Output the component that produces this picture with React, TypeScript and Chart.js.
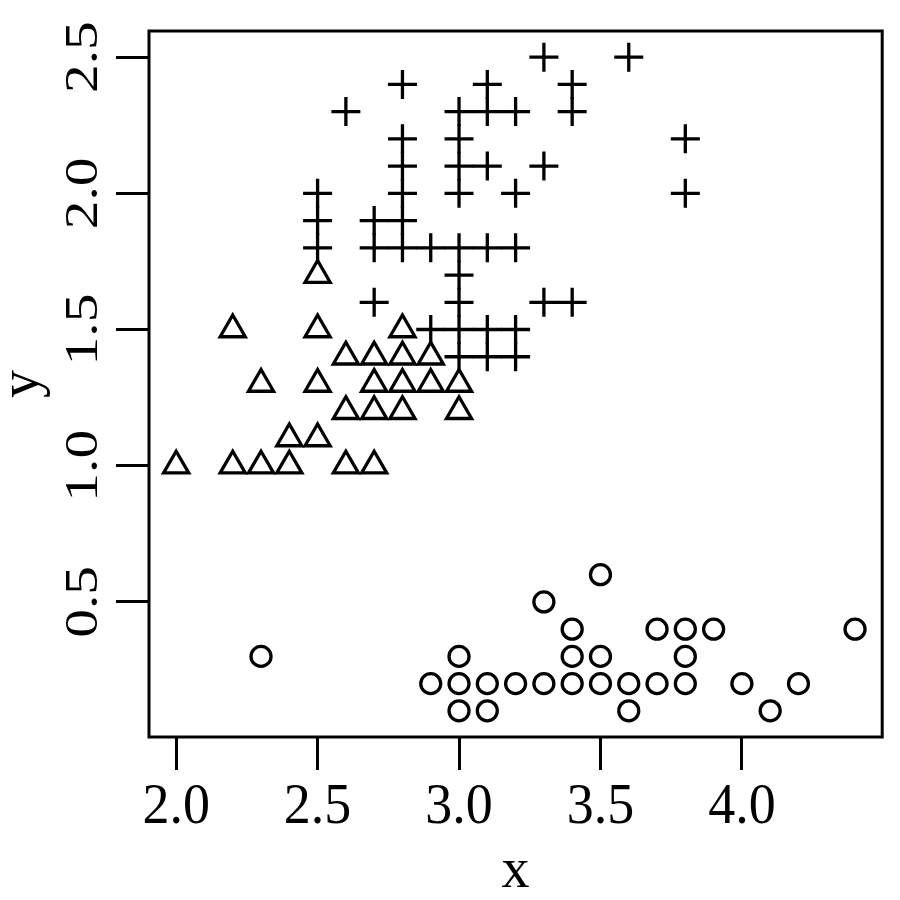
import React, { useEffect, useRef } from "react";
import { Chart, registerables } from "chart.js";

Chart.register(...registerables);

// Axis ticks
const xTicks = [2.0, 2.5, 3.0, 3.5, 4.0];
const xTickLabels = ["2.0", "2.5", "3.0", "3.5", "4.0"];
const yTicks = [0.5, 1.0, 1.5, 2.0, 2.5];
const yTickLabels = ["0.5", "1.0", "1.5", "2.0", "2.5"];
const xTitle = "x";
const yTitle = "y";

// Group 1 (circles)
const circleX = [2.3, 2.9, 3.0, 3.0, 3.0, 3.1, 3.1, 3.2, 3.3, 3.3, 3.4, 3.4, 3.4, 3.5, 3.5, 3.5, 3.6, 3.6, 3.7, 3.7, 3.8, 3.8, 3.8, 3.9, 4.0, 4.1, 4.2, 4.4];
const circleY = [0.3, 0.2, 0.1, 0.2, 0.3, 0.1, 0.2, 0.2, 0.2, 0.5, 0.2, 0.3, 0.4, 0.2, 0.3, 0.6, 0.1, 0.2, 0.2, 0.4, 0.2, 0.3, 0.4, 0.4, 0.2, 0.1, 0.2, 0.4];

// Group 2 (triangles)
const triX = [2.5, 2.2, 2.5, 2.8, 2.6, 2.7, 2.8, 2.9, 2.3, 2.5, 2.7, 2.8, 2.9, 3.0, 2.6, 2.7, 2.8, 3.0, 2.4, 2.5, 2.0, 2.2, 2.3, 2.4, 2.6, 2.7];
const triY = [1.7, 1.5, 1.5, 1.5, 1.4, 1.4, 1.4, 1.4, 1.3, 1.3, 1.3, 1.3, 1.3, 1.3, 1.2, 1.2, 1.2, 1.2, 1.1, 1.1, 1.0, 1.0, 1.0, 1.0, 1.0, 1.0];

// Group 3 (plus signs)
const plusX = [3.3, 3.6, 2.8, 3.1, 3.4, 2.6, 3.0, 3.1, 3.2, 3.4, 2.8, 3.0, 3.8, 2.8, 3.0, 3.1, 3.3, 2.5, 2.8, 3.0, 3.2, 3.8, 2.5, 2.7, 2.8, 2.5, 2.7, 2.8, 2.9, 3.0, 3.1, 3.2, 3.0, 2.7, 3.0, 3.3, 3.4, 2.9, 3.0, 3.1, 3.2, 3.0, 3.1, 3.2];
const plusY = [2.5, 2.5, 2.4, 2.4, 2.4, 2.3, 2.3, 2.3, 2.3, 2.3, 2.2, 2.2, 2.2, 2.1, 2.1, 2.1, 2.1, 2.0, 2.0, 2.0, 2.0, 2.0, 1.9, 1.9, 1.9, 1.8, 1.8, 1.8, 1.8, 1.8, 1.8, 1.8, 1.7, 1.6, 1.6, 1.6, 1.6, 1.5, 1.5, 1.5, 1.5, 1.4, 1.4, 1.4];

const FONT = '"Liberation Serif", "Times New Roman", serif';

const toPoints = (xs: number[], ys: number[]) => xs.map((x, i) => ({ x, y: ys[i] }));

export default function App() {
  const ref = useRef<HTMLCanvasElement | null>(null);

  useEffect(() => {
    if (!ref.current) return;

    const rAxes = {
      id: "rAxes",
      afterDraw(chart: any) {
        const { ctx, chartArea: a, scales } = chart;
        ctx.save();
        ctx.strokeStyle = "#000";
        ctx.lineWidth = 3;
        ctx.strokeRect(a.left, a.top, a.right - a.left, a.bottom - a.top);
        ctx.fillStyle = "#000";
        ctx.textAlign = "center";
        ctx.textBaseline = "alphabetic";
        xTicks.forEach((v, i) => {
          ctx.save();
          ctx.translate(scales.x.getPixelForValue(v), a.bottom + 86);
          ctx.scale(1, 1.06);
          ctx.font = `54px ${FONT}`;
          ctx.fillText(xTickLabels[i], 0, 0);
          ctx.restore();
        });
        yTicks.forEach((v, i) => {
          ctx.save();
          ctx.translate(a.left - 52, scales.y.getPixelForValue(v));
          ctx.rotate(-Math.PI / 2);
          ctx.scale(1.25, 1);
          ctx.font = `46px ${FONT}`;
          ctx.fillText(yTickLabels[i], 0, 0);
          ctx.restore();
        });
        ctx.font = `56px ${FONT}`;
        ctx.fillText(xTitle, (a.left + a.right) / 2, a.bottom + 150);
        ctx.save();
        ctx.translate(a.left - 111, (a.top + a.bottom) / 2);
        ctx.rotate(-Math.PI / 2);
        ctx.fillText(yTitle, 0, 0);
        ctx.restore();
        ctx.restore();
      },
    };

    const axisCommon = {
      type: "linear" as const,
      ticks: { display: false },
      grid: {
        drawOnChartArea: false,
        drawTicks: true,
        tickLength: 33,
        tickWidth: 3,
        tickColor: "#000",
        color: "#000",
      },
      border: { display: false },
    };

    const markerBase = {
      borderWidth: 3.3,
      borderColor: "#000",
      backgroundColor: "rgba(0,0,0,0)",
    };

    const chart = new Chart(ref.current, {
      type: "scatter",
      data: {
        datasets: [
          { ...markerBase, data: toPoints(circleX, circleY), pointStyle: "circle", radius: 10 },
          { ...markerBase, data: toPoints(triX, triY), pointStyle: "triangle", radius: 14.5 },
          { ...markerBase, data: toPoints(plusX, plusY), pointStyle: "cross", radius: 14.5 },
        ],
      },
      options: {
        animation: false,
        responsive: false,
        devicePixelRatio: 1,
        layout: { padding: { top: 31, right: 17, left: 0, bottom: 0 } },
        plugins: { legend: { display: false }, tooltip: { enabled: false } },
        scales: {
          x: {
            ...axisCommon,
            min: 1.904,
            max: 4.496,
            afterBuildTicks: (s: any) => {
              s.ticks = xTicks.map((v) => ({ value: v }));
            },
            afterFit: (s: any) => {
              s.height = 163;
            },
          },
          y: {
            ...axisCommon,
            min: 0.004,
            max: 2.596,
            afterBuildTicks: (s: any) => {
              s.ticks = yTicks.map((v) => ({ value: v }));
            },
            afterFit: (s: any) => {
              s.width = 149;
            },
          },
        },
      },
      plugins: [rAxes],
    } as any);

    return () => chart.destroy();
  }, []);

  return (
    <div style={{ position: "absolute", left: 0, top: 0, width: 900, height: 900, background: "#fff" }}>
      <canvas ref={ref} width={900} height={900} style={{ width: 900, height: 900 }} />
    </div>
  );
}
